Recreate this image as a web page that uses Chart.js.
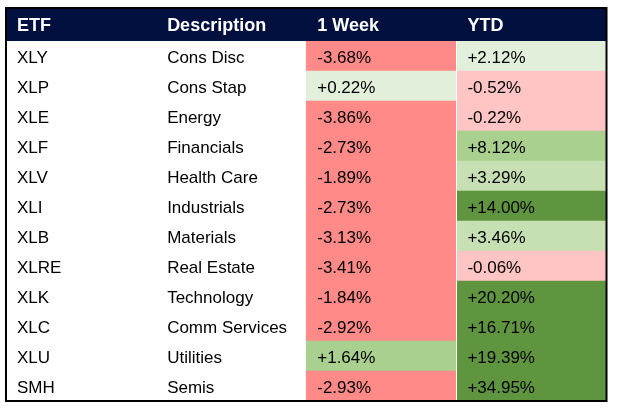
<!DOCTYPE html>
<html>
<head>
<meta charset="utf-8">
<script src="https://cdn.jsdelivr.net/npm/chart.js@4/dist/chart.umd.min.js"></script>
<style>
  html, body { margin: 0; padding: 0; background: #fff; }
  #wrap { width: 617px; height: 408px; position: relative; }
</style>
</head>
<body>
<div id="wrap"><canvas id="table"></canvas></div>
<script>
// table contents
const headers = ['ETF', 'Description', '1 Week', 'YTD'];
const etfs = ['XLY', 'XLP', 'XLE', 'XLF', 'XLV', 'XLI', 'XLB', 'XLRE', 'XLK', 'XLC', 'XLU', 'SMH'];
const descriptions = ['Cons Disc', 'Cons Stap', 'Energy', 'Financials', 'Health Care', 'Industrials',
  'Materials', 'Real Estate', 'Technology', 'Comm Services', 'Utilities', 'Semis'];
const weekReturns = [-3.68, 0.22, -3.86, -2.73, -1.89, -2.73, -3.13, -3.41, -1.84, -2.92, 1.64, -2.93];
const ytdReturns = [2.12, -0.52, -0.22, 8.12, 3.29, 14.00, 3.46, -0.06, 20.20, 16.71, 19.39, 34.95];

const FONT = "'Liberation Sans', Arial, sans-serif";
const NAVY = '#01103f';

// conditional formatting, one scale per column
function weekColor(v) {
  if (v < 0) return '#ff8a87';
  if (v < 1) return '#e2efda';
  return '#a9d08e';
}
function ytdColor(v) {
  if (v < 0) return '#ffc4c4';
  if (v < 3) return '#e2efda';
  if (v < 5) return '#c6e0b4';
  if (v < 10) return '#a9d08e';
  return '#60953f';
}
const fmt = (v) => (v >= 0 ? '+' : '') + v.toFixed(2) + '%';

const HEADER_H = 33;

const tablePlugin = {
  id: 'tablePlugin',
  beforeDraw(chart) {
    const { ctx, chartArea, scales: { x } } = chart;
    ctx.save();
    ctx.fillStyle = NAVY;
    ctx.fillRect(x.left, chartArea.top - HEADER_H, x.right - x.left, HEADER_H);
    ctx.restore();
  },
  afterDatasetsDraw(chart) {
    const { ctx, chartArea, scales: { x, y } } = chart;
    ctx.save();
    // thin white line between the two return columns
    ctx.fillStyle = '#fff';
    ctx.fillRect(Math.round(x.getPixelForValue(3)), chartArea.top, 1, chartArea.bottom - chartArea.top);

    ctx.font = '17px ' + FONT;
    ctx.fillStyle = '#000';
    ctx.textBaseline = 'alphabetic';
    ctx.textAlign = 'left';
    etfs.forEach((etf, i) => {
      const yy = y.getPixelForValue(i) + 7;
      ctx.fillText(etf, x.getPixelForValue(0) + 11, yy);
      ctx.fillText(descriptions[i], x.getPixelForValue(1) + 11, yy);
      ctx.fillText(fmt(weekReturns[i]), x.getPixelForValue(2) + 11, yy);
      ctx.fillText(fmt(ytdReturns[i]), x.getPixelForValue(3) + 11, yy);
    });
    ctx.restore();
  },
  afterDraw(chart) {
    const { ctx, chartArea, scales: { x } } = chart;
    ctx.save();
    ctx.strokeStyle = '#000';
    ctx.lineWidth = 2;
    ctx.strokeRect(x.left, chartArea.top - HEADER_H, x.right - x.left, chartArea.bottom - chartArea.top + HEADER_H);
    ctx.restore();
  }
};

new Chart(document.getElementById('table'), {
  type: 'bar',
  data: {
    labels: etfs,
    datasets: [
      {
        label: '1 Week',
        data: weekReturns.map(() => [2, 3]),
        backgroundColor: weekReturns.map(weekColor),
        borderWidth: 0,
      },
      {
        label: 'YTD',
        data: ytdReturns.map(() => [3, 4]),
        backgroundColor: ytdReturns.map(ytdColor),
        borderWidth: 0,
      },
    ],
  },
  options: {
    indexAxis: 'y',
    responsive: true,
    maintainAspectRatio: false,
    animation: false,
    grouped: false,
    barPercentage: 1,
    categoryPercentage: 1,
    layout: { padding: { left: 6, right: 10.5, top: 12, bottom: 7 } },
    plugins: { legend: { display: false }, tooltip: { enabled: false } },
    scales: {
      x: {
        type: 'linear',
        position: 'top',
        min: 0,
        max: 4,
        grid: { display: false, drawTicks: false, tickLength: 0 },
        border: { display: false },
        ticks: {
          stepSize: 1,
          autoSkip: false,
          maxRotation: 0,
          align: 'start',
          labelOffset: 11,
          padding: 4.3,
          color: '#ffffff',
          font: { family: FONT, size: 18, weight: 'bold', lineHeight: 1.1333 },
          callback: (v) => headers[v] ?? '',
        },
      },
      y: {
        type: 'category',
        display: false,
        offset: true,
        grid: { display: false },
      },
    },
  },
  plugins: [tablePlugin],
});
</script>
</body>
</html>
